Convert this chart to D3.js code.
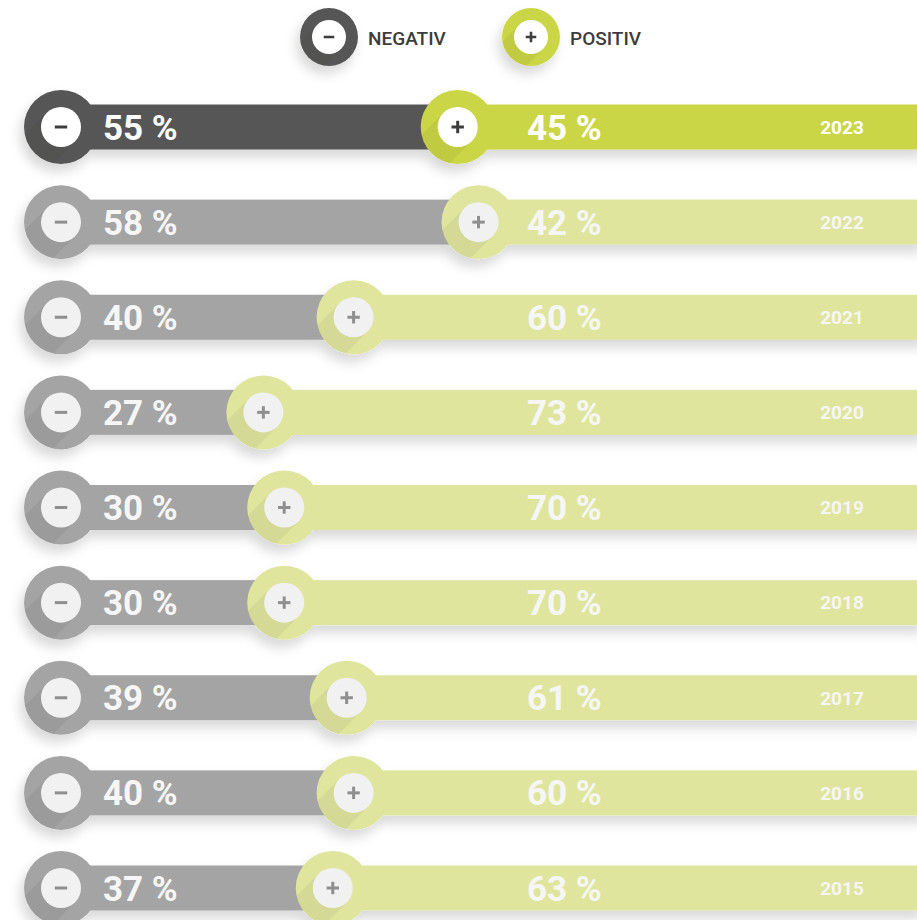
<!DOCTYPE html>
<html>
<head>
<meta charset="utf-8">
<script src="https://cdn.jsdelivr.net/npm/d3@7"></script>
<style>
  body { margin: 0; background: #fff; }
  text { font-family: Roboto, "DejaVu Sans Condensed", sans-serif; font-weight: bold; }
</style>
</head>
<body>
<div id="chart"></div>
<script>
// Data
var years = ["2023", "2022", "2021", "2020", "2019", "2018", "2017", "2016", "2015"];
var negativ = [55, 58, 40, 27, 30, 30, 39, 40, 37];
var positiv = [45, 42, 60, 73, 70, 70, 61, 60, 63];
var legendLabels = ["NEGATIV", "POSITIV"];

var svgWidth = 917;
var svgHeight = 920;

// Colours: the latest year is highlighted, the rest are faded
var colors = {
    neg: "#575756", pos: "#cbd646",
    negFaded: "#a4a4a4", posFaded: "#e0e59e",
    icon: "#3c3c3b", iconFaded: "#8f8f8f",
    inner: "#ffffff", innerFaded: "#f1f1f1"
};

var rows = years.map((y, i) => ({ year: y, neg: negativ[i], pos: positiv[i], active: i === 0 }));

var svg = d3.select("#chart")
    .append("svg")
    .attr("width", svgWidth)
    .attr("height", svgHeight);

var defs = svg.append("defs");

var shadow = defs.append("filter")
    .attr("id", "shadow")
    .attr("x", "-20%").attr("y", "-60%")
    .attr("width", "140%").attr("height", "240%");
shadow.append("feDropShadow")
    .attr("dx", -4).attr("dy", 8)
    .attr("stdDeviation", 6)
    .attr("flood-color", "#000")
    .attr("flood-opacity", 0.15);

// Scales
var xScale = d3.scaleLinear()
    .domain([0, 100])
    .range([76, 770]);

var yScale = d3.scalePoint()
    .domain(years)
    .range([127, 888]);

var barH = 45;
var outerR = 37;
var innerR = 20;
var leftX = 61;

var clipId = 0;

// circle with a white core, an icon and a diagonal long shadow
function badge(g, cx, cy, rOut, rIn, fill, innerFill, iconFill, sign) {
    var id = "clip" + (clipId++);
    defs.append("clipPath").attr("id", id)
        .append("circle").attr("cx", cx).attr("cy", cy).attr("r", rOut);

    g.append("circle")
        .attr("cx", cx).attr("cy", cy).attr("r", rOut)
        .attr("fill", fill);

    // long shadow going down-left from the inner circle
    g.append("g")
        .attr("clip-path", `url(#${id})`)
        .append("rect")
        .attr("x", -rIn).attr("y", 0)
        .attr("width", rIn * 2).attr("height", rOut * 2)
        .attr("transform", `translate(${cx},${cy}) rotate(45)`)
        .attr("fill", "#000")
        .attr("opacity", 0.05);

    g.append("circle")
        .attr("cx", cx).attr("cy", cy).attr("r", rIn)
        .attr("fill", innerFill);

    var len = rIn * 0.62;
    var th = Math.max(2.5, rIn * 0.15);
    g.append("rect")
        .attr("x", cx - len / 2).attr("y", cy - th / 2)
        .attr("width", len).attr("height", th)
        .attr("fill", iconFill);
    if (sign === "+") {
        g.append("rect")
            .attr("x", cx - th / 2).attr("y", cy - len / 2)
            .attr("width", th).attr("height", len)
            .attr("fill", iconFill);
    }
}

// Legend
var legendX = [329, 531];
legendLabels.forEach(function(label, i) {
    var lg = svg.append("g").attr("filter", "url(#shadow)");
    badge(lg, legendX[i], 37, 29, 17,
        i === 0 ? colors.neg : colors.pos, "#fff", colors.icon, i === 0 ? "-" : "+");
    svg.append("text")
        .attr("x", legendX[i] + 39)
        .attr("y", 38)
        .attr("dy", "0.36em")
        .attr("fill", "#3c3c3b")
        .style("font-size", "19px")
        .style("font-weight", 500)
        .text(label);
});

// Rows
rows.forEach(function(d) {
    var cy = yScale(d.year);
    var split = xScale(d.neg);
    var g = svg.append("g").attr("filter", "url(#shadow)");

    var negFill = d.active ? colors.neg : colors.negFaded;
    var posFill = d.active ? colors.pos : colors.posFaded;
    var innerFill = d.active ? colors.inner : colors.innerFaded;
    var iconFill = d.active ? colors.icon : colors.iconFaded;

    g.append("rect")
        .attr("x", leftX).attr("y", cy - barH / 2)
        .attr("width", split - leftX).attr("height", barH)
        .attr("fill", negFill);

    g.append("rect")
        .attr("x", split).attr("y", cy - barH / 2)
        .attr("width", svgWidth - split + 10).attr("height", barH)
        .attr("fill", posFill);

    badge(g, leftX, cy, outerR, innerR, negFill, innerFill, iconFill, "-");
    badge(g, split, cy, outerR, innerR, posFill, innerFill, iconFill, "+");

    var txtFill = d.active ? "#ffffff" : "#f6f6f6";

    svg.append("text")
        .attr("x", 103)
        .attr("y", cy)
        .attr("dy", "0.36em")
        .attr("fill", txtFill)
        .style("font-size", "35px")
        .text(d.neg + " %");

    svg.append("text")
        .attr("x", Math.max(split + 48, 527))
        .attr("y", cy)
        .attr("dy", "0.36em")
        .attr("fill", txtFill)
        .style("font-size", "35px")
        .text(d.pos + " %");

    svg.append("text")
        .attr("x", 842)
        .attr("y", cy)
        .attr("dy", "0.36em")
        .attr("text-anchor", "middle")
        .attr("fill", txtFill)
        .style("font-size", "19px")
        .text(d.year);
});
</script>
</body>
</html>
